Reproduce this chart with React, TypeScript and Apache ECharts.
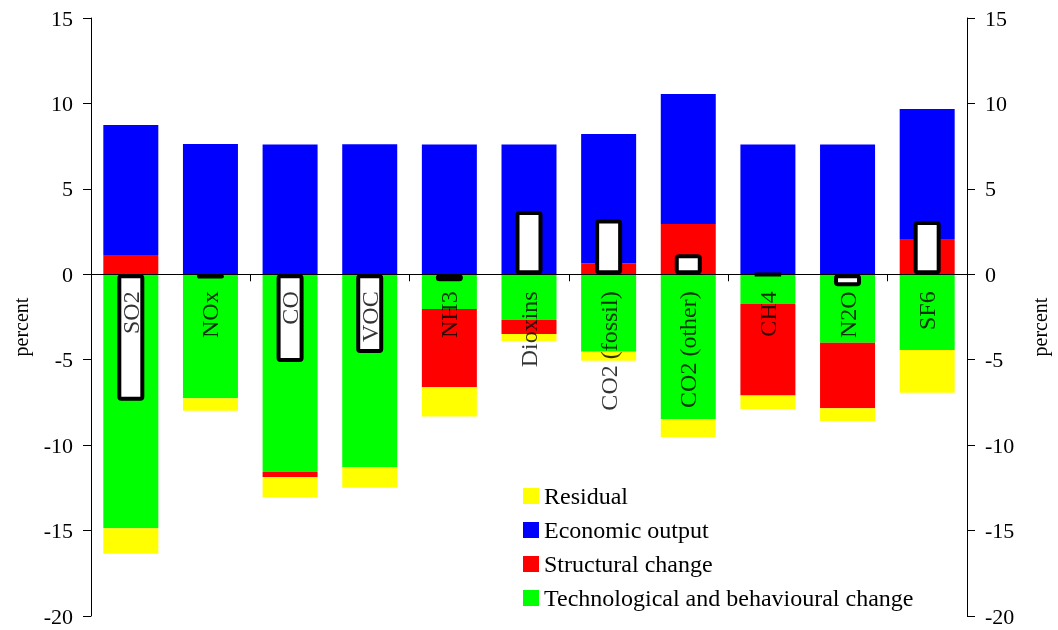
import React, { useEffect, useRef } from "react";
import * as echarts from "echarts";

const categories = ["SO2", "NOx", "CO", "VOC", "NH3", "Dioxins", "CO2 (fossil)", "CO2 (other)", "CH4", "N2O", "SF6"];
const techChange = [-14.87, -7.26, -11.57, -11.3, -2.03, -2.67, -4.53, -8.49, -1.74, -4.0, -4.43];
const structuralChange = [1.13, 0, -0.29, 0, -4.58, -0.82, 0.64, 2.94, -5.36, -3.84, 2.07];
const economicOutput = [7.61, 7.63, 7.59, 7.61, 7.59, 7.59, 7.57, 7.61, 7.59, 7.59, 7.6];
const residual = [-1.48, -0.72, -1.21, -1.19, -1.72, -0.41, -0.53, -1.03, -0.78, -0.75, -2.5];
const netChange = [-7.4, -0.25, -5.13, -4.6, -0.41, 3.7, 3.2, 1.17, -0.03, -0.7, 3.12];
const legendOrder = ["Residual", "Economic output", "Structural change", "Technological and behavioural change"];

const FONT = "Liberation Serif, Times New Roman, serif";

export default function App() {
  const ref = useRef<HTMLDivElement>(null);
  useEffect(() => {
    if (!ref.current) return;
    const chart = echarts.init(ref.current, null, { renderer: "svg" });
    const yAxisCommon = {
      type: "value",
      min: -20,
      max: 15,
      interval: 5,
      splitLine: { show: false },
      axisLine: { show: true, lineStyle: { color: "#000", width: 1 } },
      axisTick: { show: true, length: 8, lineStyle: { color: "#000" } },
      axisLabel: { color: "#000", fontSize: 22, fontFamily: FONT, margin: 18 },
    };
    const barCommon = {
      type: "bar",
      stack: "total",
      barWidth: 55,
      xAxisIndex: 0,
      yAxisIndex: 0,
      emphasis: { disabled: true },
    };
    chart.setOption({
      animation: false,
      grid: { left: 91, right: 91, top: 18, bottom: 14, containLabel: false, outerBoundsMode: "none" },
      legend: {
        data: legendOrder,
        orient: "vertical",
        left: 523,
        top: 484,
        padding: 0,
        itemWidth: 16,
        itemHeight: 16,
        itemGap: 10,
        icon: "rect",
        selectedMode: false,
        textStyle: { color: "#000", fontSize: 24, lineHeight: 24, fontFamily: FONT },
      },
      xAxis: [
        {
          type: "category",
          data: categories,
          z: 10,
          axisLine: { onZero: true, lineStyle: { color: "#000", width: 1 } },
          axisTick: { show: true, length: 7, lineStyle: { color: "#000" } },
          axisLabel: { show: false },
        },
        { type: "category", data: categories, show: false },
      ],
      yAxis: [
        { ...yAxisCommon, position: "left" },
        { ...yAxisCommon, position: "right" },
      ],
      graphic: [
        {
          type: "text",
          x: 21,
          y: 327,
          rotation: Math.PI / 2,
          style: { text: "percent", fontSize: 20, fontFamily: FONT, fill: "#000", align: "center", verticalAlign: "middle" },
        },
        {
          type: "text",
          x: 1040,
          y: 327,
          rotation: Math.PI / 2,
          style: { text: "percent", fontSize: 20, fontFamily: FONT, fill: "#000", align: "center", verticalAlign: "middle" },
        },
      ],
      series: [
        { ...barCommon, name: "Technological and behavioural change", data: techChange, itemStyle: { color: "#00FF00" } },
        { ...barCommon, name: "Structural change", data: structuralChange, itemStyle: { color: "#FF0000" } },
        { ...barCommon, name: "Economic output", data: economicOutput, itemStyle: { color: "#0000FF" } },
        { ...barCommon, name: "Residual", data: residual, itemStyle: { color: "#FFFF00" } },
        {
          type: "bar",
          name: "Net change",
          xAxisIndex: 1,
          yAxisIndex: 0,
          barWidth: 27,
          z: 3,
          data: netChange,
          emphasis: { disabled: true },
          itemStyle: { color: "#FFFFFF", borderColor: "#000", borderWidth: 4, borderRadius: 2 },
        },
        {
          type: "scatter",
          name: "Category labels",
          xAxisIndex: 0,
          yAxisIndex: 0,
          symbolSize: 0,
          z: 6,
          silent: true,
          data: categories.map((c) => ({ name: c, value: [c, 0] })),
          label: {
            show: true,
            position: "bottom",
            distance: 17,
            rotate: 90,
            align: "right",
            verticalAlign: "middle",
            formatter: "{b}",
            color: "#000",
            fontSize: 24,
            fontFamily: FONT,
          },
        },
      ],
    });
    return () => chart.dispose();
  }, []);
  return <div ref={ref} style={{ position: "fixed", left: 0, top: 0, width: 1058, height: 630 }} />;
}
